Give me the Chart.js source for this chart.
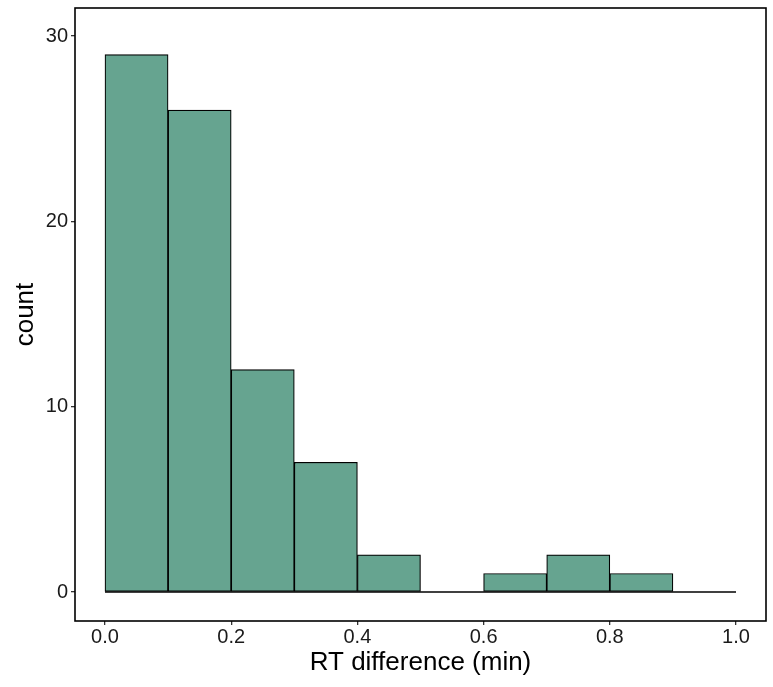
<!DOCTYPE html>
<html>
<head>
<meta charset="utf-8">
<script src="https://cdn.jsdelivr.net/npm/chart.js@4.4.0/dist/chart.umd.min.js"></script>
<style>
html,body{margin:0;padding:0;background:#fff;}
#wrap{width:773px;height:687px;position:relative;}
</style>
</head>
<body>
<div id="wrap"><canvas id="c" width="773" height="687"></canvas></div>
<script>
// Histogram bins (left edges), counts, ticks
const binStarts = [0.0, 0.1, 0.2, 0.3, 0.4, 0.5, 0.6, 0.7, 0.8, 0.9];
const binWidth = 0.1;
const counts = [29, 26, 12, 7, 2, 0, 1, 2, 1, 0];
const xTicks = [0.0, 0.2, 0.4, 0.6, 0.8, 1.0];
const yTicks = [0, 10, 20, 30];
const baseline = [[0.0, 0], [1.0, 0]];

const barData = binStarts.map((s, i) => ({x: s + binWidth / 2, y: counts[i]}));

const panelBorder = {
  id: 'panelBorder',
  afterDraw(chart) {
    const {ctx, chartArea: a} = chart;
    ctx.save();
    ctx.strokeStyle = '#000';
    ctx.lineWidth = 1.6;
    ctx.strokeRect(a.left, a.top, a.right - a.left, a.bottom - a.top);
    ctx.restore();
  }
};

const FONT = "'Liberation Sans', Arial, sans-serif";

new Chart(document.getElementById('c'), {
  type: 'bar',
  data: {
    datasets: [
      {
        type: 'line',
        data: baseline.map(p => ({x: p[0], y: p[1]})),
        borderColor: '#000',
        borderWidth: 1.3,
        pointRadius: 0,
        order: 2
      },
      {
        type: 'bar',
        data: barData,
        backgroundColor: '#66A490',
        borderColor: '#000',
        borderWidth: 1.2,
        borderSkipped: false,
        barPercentage: 1.0,
        categoryPercentage: 1.0,
        grouped: false,
        order: 1
      }
    ]
  },
  options: {
    responsive: false,
    animation: false,
    devicePixelRatio: 1,
    layout: {padding: {top: 8, right: 7, left: 0, bottom: 0}},
    plugins: {legend: {display: false}, tooltip: {enabled: false}},
    scales: {
      x: {
        type: 'linear',
        offset: false,
        min: -0.0475,
        max: 1.0475,
        afterBuildTicks(scale) { scale.ticks = xTicks.map(v => ({value: v})); },
        afterFit(scale) { scale.height = 66; scale.paddingLeft = 0; scale.paddingRight = 0; },
        ticks: {
          color: '#1a1a1a',
          font: {family: FONT, size: 20},
          padding: 0,
          maxRotation: 0,
          callback: v => Number(v).toFixed(1)
        },
        grid: {display: true, offset: false, drawOnChartArea: false, drawTicks: true, tickLength: 4, color: '#333', lineWidth: 1.3},
        border: {display: false},
        title: {display: true, text: 'RT difference (min)', color: '#000', font: {family: FONT, size: 26}, padding: {top: 0, bottom: 9}}
      },
      y: {
        type: 'linear',
        min: -1.565,
        max: 31.51,
        afterBuildTicks(scale) { scale.ticks = yTicks.map(v => ({value: v})); },
        afterFit(scale) { scale.width = 75; scale.paddingTop = 0; scale.paddingBottom = 0; },
        ticks: {
          color: '#1a1a1a',
          font: {family: FONT, size: 20},
          padding: 3
        },
        grid: {display: true, drawOnChartArea: false, drawTicks: true, tickLength: 4, color: '#333', lineWidth: 1.3},
        border: {display: false},
        title: {display: true, text: 'count', color: '#000', font: {family: FONT, size: 26}, padding: {top: 10, bottom: 0}}
      }
    }
  },
  plugins: [panelBorder]
});
</script>
</body>
</html>
